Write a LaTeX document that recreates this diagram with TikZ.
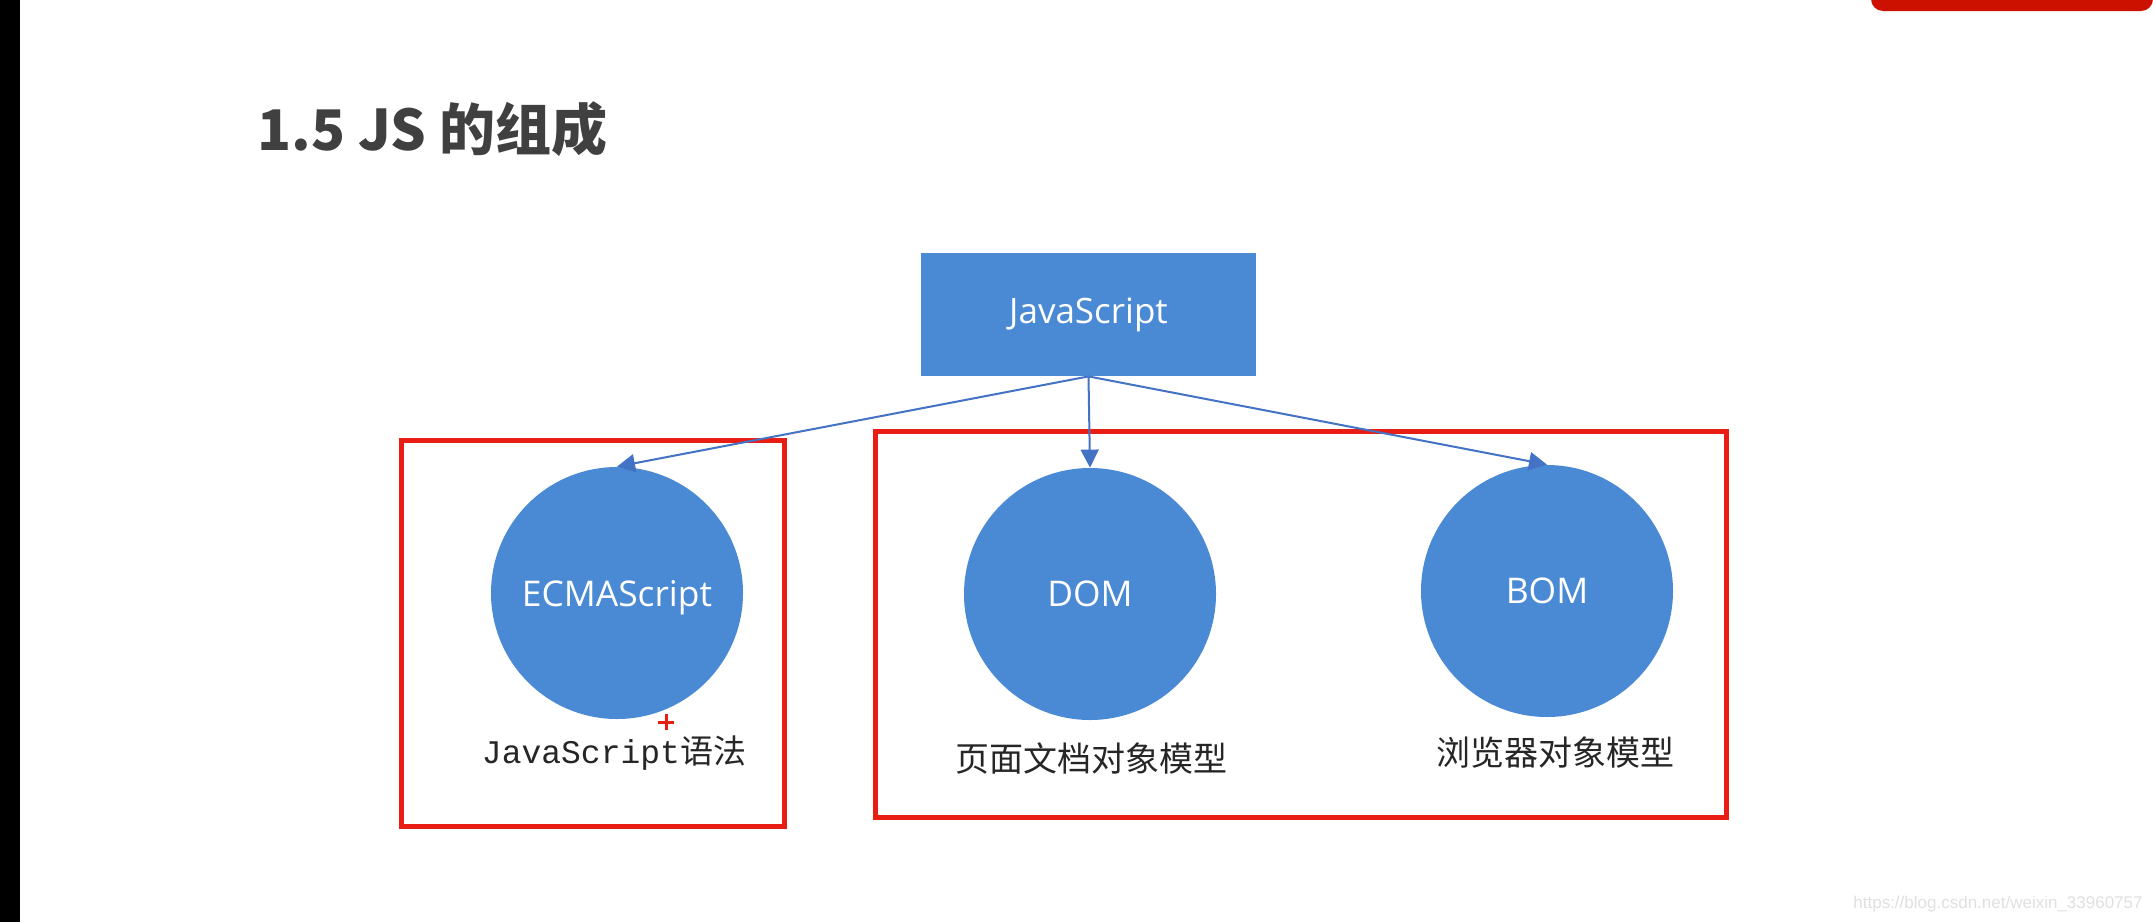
\documentclass[tikz,border=0pt]{standalone}
\usepackage{fontspec}
\setmainfont{Open Sans}
\newfontfamily\cjk{Noto Sans CJK SC}
\newfontfamily\monof{Liberation Mono}
\newfontfamily\wmfont{Liberation Sans}
\usetikzlibrary{arrows.meta}
\definecolor{nodeblue}{RGB}{74,138,213}
\definecolor{arrowblue}{RGB}{68,114,196}
\definecolor{boxred}{RGB}{232,30,20}
\definecolor{barred}{RGB}{204,17,0}
\definecolor{titlegray}{RGB}{64,64,64}
\tikzset{
  jsbox/.style={rectangle, fill=nodeblue, minimum width=167.5pt, minimum height=61.5pt, inner sep=0pt, text=white, font=\fontsize{17.5}{20}\selectfont},
  comp/.style={circle, fill=nodeblue, minimum size=126pt, inner sep=0pt, text=white, text depth=0pt, font=\fontsize{17.7}{20}\selectfont},
  lbl/.style={inner sep=0pt, text=black!85},
  arr/.style={draw=arrowblue, line width=1pt, -{Triangle[length=9pt,width=9pt]}},
  redbox/.style={draw=boxred, line width=2.5pt},
}
\begin{document}
\begin{tikzpicture}[x=0.5pt,y=-0.5pt]
\useasboundingbox (0,0) rectangle (2153,922);
\fill[white] (0,0) rectangle (2153,922);
\fill[black] (0,0) rectangle (20,922);
\fill[barred] (1871,0) [rounded corners=6pt] -- (1871,11) -- (2153,11) [sharp corners] -- (2153,0) -- cycle;

\node[anchor=base west, text=titlegray, font=\cjk\bfseries\fontsize{28}{32}\selectfont, inner sep=0pt] (title) at (257,150) {1.5 JS 的组成};

\draw[redbox] (401,440) rectangle (784,826);
\draw[redbox] (875,431) rectangle (1726,817);

\node[jsbox] (js) at (1088.5,314.5) {JavaScript};
\node[comp] (ecma) at (617,593) {ECMAScript};
\node[comp] (dom) at (1090,594) {DOM};
\node[comp] (bom) at (1547,591) {BOM};

\draw[arr] (js.south) -- (ecma.north);
\draw[arr] (js.south) -- (dom.north);
\draw[arr] (js.south) -- (bom.north);

\node[lbl, anchor=base] (ecmal) at (614,763) {\monof\fontsize{16.5}{20}\selectfont JavaScript\cjk\fontsize{16.5}{20}\selectfont 语法};
\node[lbl, font=\cjk\fontsize{17}{20}\selectfont] (doml) at (1091,758) {页面文档对象模型};
\node[lbl, font=\cjk\fontsize{17}{20}\selectfont] (boml) at (1555,753) {浏览器对象模型};

\draw[boxred, line width=1.5pt] (658,722) -- (674,722) (666,714) -- (666,730);

\node[anchor=east, text=black!12, font=\wmfont\fontsize{8.5}{10}\selectfont, inner sep=0pt] (wmark) at (2143,904) {https://blog.csdn.net/weixin\_33960757};
\end{tikzpicture}
\end{document}
